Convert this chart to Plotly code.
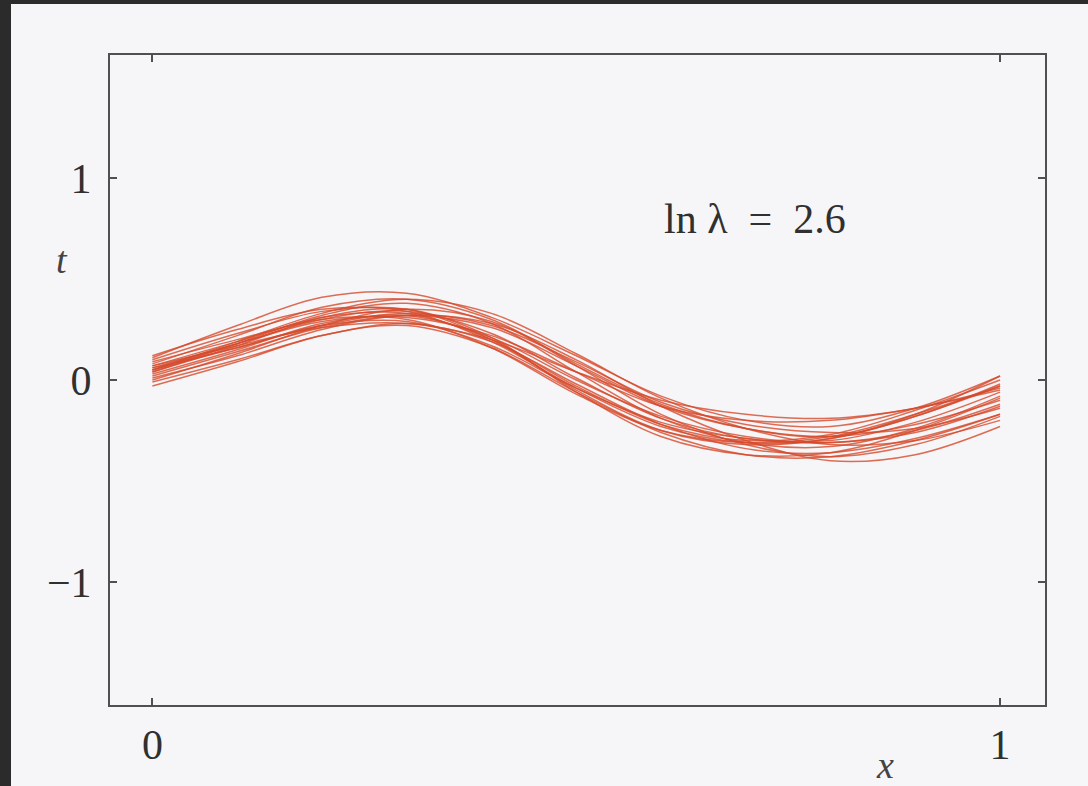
import plotly.graph_objects as go

# Sample locations along the input axis
x_pts = [0.0, 0.1, 0.2, 0.3, 0.4, 0.5, 0.6, 0.7, 0.8, 0.9, 1.0]

# Regularised fits, one per data set (ln lambda = 2.6)
fit_01 = [0.08, 0.22, 0.36, 0.40, 0.30, 0.08, -0.12, -0.24, -0.28, -0.18, -0.02]
fit_02 = [0.02, 0.14, 0.26, 0.32, 0.26, 0.07, -0.13, -0.24, -0.28, -0.22, -0.10]
fit_03 = [0.11, 0.27, 0.41, 0.43, 0.31, 0.12, -0.08, -0.20, -0.23, -0.14, 0.02]
fit_04 = [-0.03, 0.09, 0.22, 0.27, 0.16, -0.06, -0.26, -0.37, -0.38, -0.30, -0.17]
fit_05 = [0.05, 0.18, 0.30, 0.34, 0.23, 0.01, -0.19, -0.29, -0.30, -0.21, -0.06]
fit_06 = [0.06, 0.16, 0.27, 0.33, 0.27, 0.09, -0.11, -0.22, -0.26, -0.24, -0.14]
fit_07 = [0.04, 0.17, 0.31, 0.35, 0.21, -0.06, -0.28, -0.37, -0.36, -0.25, -0.09]
fit_08 = [0.09, 0.20, 0.30, 0.30, 0.16, -0.07, -0.25, -0.31, -0.28, -0.17, -0.03]
fit_09 = [0.00, 0.13, 0.27, 0.35, 0.29, 0.07, -0.17, -0.32, -0.38, -0.32, -0.18]
fit_10 = [0.07, 0.19, 0.31, 0.33, 0.20, -0.03, -0.22, -0.30, -0.27, -0.15, 0.00]
fit_11 = [0.03, 0.15, 0.28, 0.32, 0.21, 0.00, -0.18, -0.28, -0.31, -0.25, -0.12]
fit_12 = [0.06, 0.18, 0.29, 0.31, 0.22, 0.04, -0.13, -0.20, -0.20, -0.14, -0.05]
fit_13 = [0.01, 0.12, 0.25, 0.32, 0.28, 0.10, -0.13, -0.30, -0.40, -0.37, -0.23]
fit_14 = [0.10, 0.23, 0.34, 0.35, 0.20, -0.05, -0.25, -0.32, -0.29, -0.18, -0.03]
fit_15 = [0.05, 0.16, 0.27, 0.29, 0.17, -0.04, -0.21, -0.29, -0.31, -0.26, -0.13]
fit_16 = [0.04, 0.18, 0.32, 0.38, 0.28, 0.04, -0.19, -0.31, -0.33, -0.24, -0.08]
fit_17 = [0.07, 0.17, 0.26, 0.28, 0.20, 0.04, -0.10, -0.17, -0.19, -0.14, -0.04]
fit_18 = [-0.01, 0.10, 0.22, 0.28, 0.19, -0.02, -0.22, -0.34, -0.36, -0.29, -0.17]
fit_19 = [0.12, 0.25, 0.35, 0.34, 0.19, -0.04, -0.23, -0.31, -0.29, -0.17, 0.02]
fit_20 = [0.05, 0.19, 0.33, 0.40, 0.33, 0.13, -0.09, -0.24, -0.32, -0.30, -0.20]

fits = [fit_01, fit_02, fit_03, fit_04, fit_05, fit_06, fit_07, fit_08, fit_09, fit_10,
        fit_11, fit_12, fit_13, fit_14, fit_15, fit_16, fit_17, fit_18, fit_19, fit_20]

x_ticks = [0, 1]
x_tick_labels = ["0", "1"]
y_ticks = [-1, 0, 1]
y_tick_labels = ["\u22121", "0", "1"]

PAGE = "#f6f6f9"
INK = "#505050"
TEXT = "#303030"
CURVE = "rgba(214, 74, 42, 0.8)"
SERIF = "Liberation Serif, DejaVu Serif, serif"

W, H = 1088, 786
ML, MR, MT, MB = 110, 43, 55, 81
PW, PH = W - ML - MR, H - MT - MB


def px_to_paper(px, py):
    """Convert a pixel position on the page to paper coordinates."""
    return (px - ML) / PW, 1 - (py - MT) / PH


fig = go.Figure()
for f in fits:
    fig.add_trace(go.Scatter(
        x=x_pts, y=f, mode="lines",
        line=dict(color=CURVE, width=1.5, shape="spline", smoothing=1.0),
        hoverinfo="skip", showlegend=False,
    ))

axis_common = dict(
    showgrid=False, zeroline=False,
    showline=True, linecolor=INK, linewidth=2, mirror="ticks",
    ticks="inside", ticklen=7, tickwidth=2, tickcolor=INK,
    tickfont=dict(family=SERIF, size=42, color=TEXT),
)

fig.update_xaxes(range=[-0.05, 1.053], tickvals=x_ticks, ticktext=x_tick_labels,
                 ticklabelstandoff=2, **axis_common)
fig.update_yaxes(range=[-1.61, 1.61], tickvals=y_ticks, ticktext=y_tick_labels,
                 ticklabelstandoff=8, **axis_common)

# dark surround of the page along the top and left edges
x0, y0 = px_to_paper(0, H)
x1, y1 = px_to_paper(11, 0)
fig.add_shape(type="rect", xref="paper", yref="paper", layer="above",
              x0=x0, x1=x1, y0=y0, y1=y1, fillcolor="#2b2b2b", line=dict(width=0))
x0, y0 = px_to_paper(0, 4)
x1, y1 = px_to_paper(W, 0)
fig.add_shape(type="rect", xref="paper", yref="paper", layer="above",
              x0=x0, x1=x1, y0=y0, y1=y1, fillcolor="#2b2b2b", line=dict(width=0))

fig.add_annotation(x=0.711, y=0.8, xref="x", yref="y", text="ln \u03bb  =  2.6",
                   showarrow=False, xanchor="center", yanchor="middle",
                   font=dict(family=SERIF, size=42, color=TEXT))

tx, ty = px_to_paper(62, 260)
fig.add_annotation(x=tx, y=ty, xref="paper", yref="paper", text="<i>t</i>",
                   showarrow=False, xanchor="center", yanchor="middle",
                   font=dict(family=SERIF, size=38, color="#444444"))
xx, xy = px_to_paper(885, 765)
fig.add_annotation(x=xx, y=xy, xref="paper", yref="paper", text="<i>x</i>",
                   showarrow=False, xanchor="center", yanchor="middle",
                   font=dict(family=SERIF, size=38, color="#444444"))

fig.update_layout(
    width=W, height=H,
    margin=dict(l=ML, r=MR, t=MT, b=MB),
    paper_bgcolor=PAGE, plot_bgcolor=PAGE,
)

fig.write_html("out.html")
